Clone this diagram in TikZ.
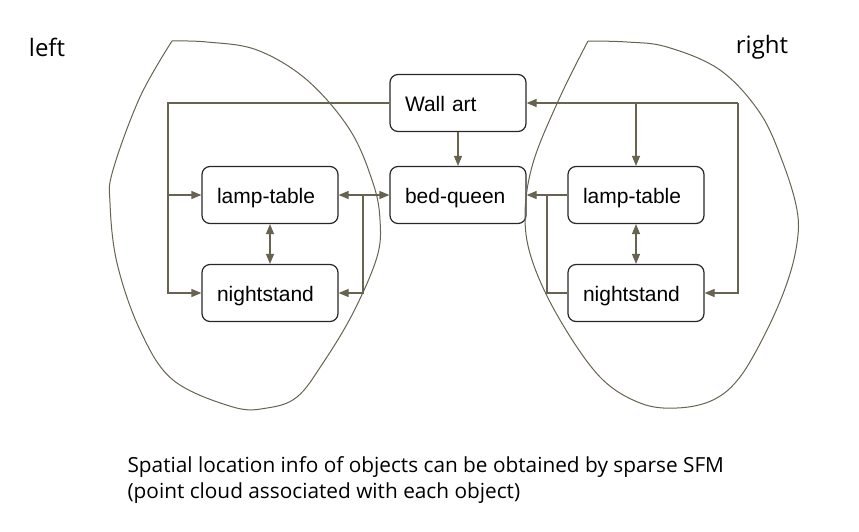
\documentclass[tikz,border=0pt]{standalone}
\usepackage{fontspec}
\setmainfont{Open Sans}
\newfontfamily\boxfont{Liberation Sans}
\usetikzlibrary{arrows.meta}
\definecolor{linecol}{RGB}{104,98,80}
\definecolor{boxcol}{RGB}{40,40,40}
\begin{document}
\begin{tikzpicture}[x=1pt,y=-1pt,
	obj/.style={draw=boxcol,line width=1.2pt,rounded corners=8pt,text width=106pt,inner xsep=15pt,align=left,text height=17pt,text depth=0pt,minimum height=57pt,font=\boxfont\fontsize{21}{24}\selectfont},
	link/.style={draw=linecol,line width=1.2pt,-{Triangle[length=10pt,width=8pt]}},
	both/.style={link,{Triangle[length=10pt,width=8pt]}-{Triangle[length=10pt,width=8pt]}},
	blob/.style={draw=linecol,line width=1pt}]
		\useasboundingbox (0,0) rectangle (859,531);
		
		\node(1) at (458,103)[obj]{Wall art};
		\node(2) at (458,195)[obj]{bed-queen};
		\node(3) at (270,195)[obj]{lamp-table};
		\node(4) at (270,293)[obj]{nightstand};
		\node(5) at (636,195)[obj]{lamp-table};
		\node(6) at (636,293)[obj]{nightstand};
		\coordinate(l) at (168,103);
		\coordinate(lb) at (363,195);
		\coordinate(r) at (738,103);
		\coordinate(rb) at (547,195);
		
		\node(left) at (47,47)[font=\fontsize{24}{28}\selectfont]{left};
		\node(right) at (762,47)[font=\fontsize{24}{28}\selectfont]{right};
		\node(cap) at (124,480)[anchor=west,align=left,font=\fontsize{20.8}{26}\selectfont]{Spatial location info of objects can be obtained by sparse SFM\\(point cloud associated with each object)};
		
			\draw[link] (1) -- (2);
			\draw[link] (1.west) -- (l) |- (3.west);
			\draw[link] (l) |- (4.west);
			\draw[both] (3) -- (2);
			\draw[link] (lb) |- (4.east);
			\draw[both] (3) -- (4);
			\draw[link] (5) -- (2);
			\draw[link,-] (6.west) -| (rb);
			\draw[link] (r) -- (1.east);
			\draw[link] (r) |- (6.east);
			\draw[link] (5.north |- r) -- (5.north);
			\draw[both] (5) -- (6);
		
			\draw[blob] plot[smooth,tension=0.6] coordinates {(172,41) (140,97) (113,170) (110,203) (117,263) (140,330) (173,380) (233,407) (267,408) (297,397) (323,363) (353,313) (377,257) (380,220) (373,183) (350,130) (307,80) (257,50) (207,42) (172,41)};
			\draw[blob] plot[smooth,tension=0.6] coordinates {(588,41) (560,97) (533,163) (525,217) (533,263) (560,320) (600,377) (640,403) (677,408) (713,400) (740,377) (767,330) (787,283) (797,243) (797,210) (783,163) (760,113) (720,70) (667,47) (627,42) (588,41)};
		
	\end{tikzpicture}
\end{document}
